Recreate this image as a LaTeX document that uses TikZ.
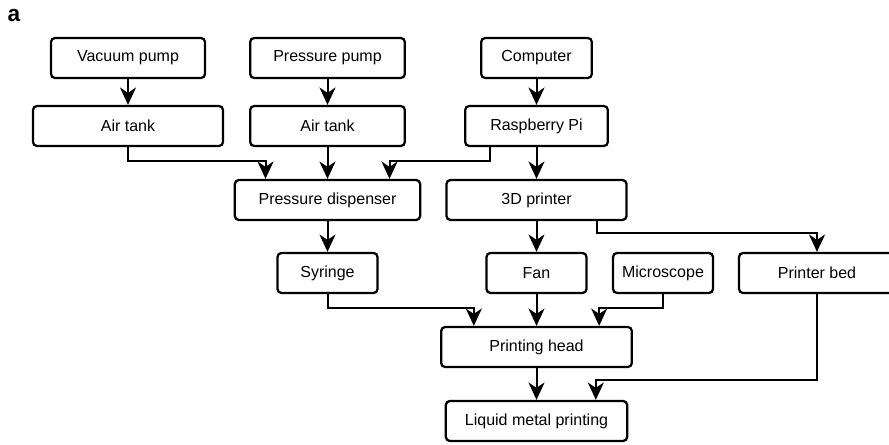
\documentclass[tikz,border=0pt]{standalone}
\usepackage{fontspec}
\setmainfont{Liberation Sans}
\usetikzlibrary{arrows.meta}
\begin{document}
\begin{tikzpicture}[x=0.75pt, y=-0.75pt,
    every node/.style={draw, rectangle, rounded corners=3pt, line width=1.7pt, minimum height=30pt, font=\fontsize{12}{14}\selectfont, inner sep=2pt},
    link/.style={line width=1.5pt, -{Stealth[length=13pt, width=12pt, inset=4pt]}}]
        \useasboundingbox (0,0) rectangle (889,445);
        \coordinate (c1) at (128,58);
        \coordinate (c2) at (327.5,58);
        \coordinate (c3) at (536.5,58);
        \coordinate (c4) at (128,126);
        \coordinate (c5) at (327.5,126);
        \coordinate (c6) at (536.5,126);
        \coordinate (c7) at (327.5,200);
        \coordinate (c8) at (536.5,200);
        \coordinate (c9) at (327.5,273);
        \coordinate (c10) at (536.5,273);
        \coordinate (c11) at (663,273);
        \coordinate (c12) at (817,273);
        \coordinate (c13) at (536.5,347);
        \coordinate (c14) at (536.5,421);
        \node[draw=none, font=\fontsize{17}{20}\selectfont\bfseries, inner sep=0pt, minimum height=0pt] (lbl) at (14,16) {a};
        \node[minimum width=115.5pt] (vac) at (c1) {Vacuum pump};
        \node[minimum width=116pt] (pump) at (c2) {Pressure pump};
        \node[minimum width=83pt] (pc) at (c3) {Computer};
        \node[minimum width=142.5pt] (tank1) at (c4) {Air tank};
        \node[minimum width=116pt] (tank2) at (c5) {Air tank};
        \node[minimum width=107pt] (rpi) at (c6) {Raspberry Pi};
        \node[minimum width=139pt] (disp) at (c7) {Pressure dispenser};
        \node[minimum width=135pt] (prn) at (c8) {3D printer};
        \node[minimum width=75pt] (syr) at (c9) {Syringe};
        \node[minimum width=75pt] (fan) at (c10) {Fan};
        \node[minimum width=75pt] (mic) at (c11) {Microscope};
        \node[minimum width=117pt] (bed) at (c12) {Printer bed};
        \node[minimum width=143pt] (head) at (c13) {Printing head};
        \node[minimum width=136pt] (lmp) at (c14) {Liquid metal printing};
        % straight links
        \draw[link] (vac) -- (tank1);
        \draw[link] (pump) -- (tank2);
        \draw[link] (pc) -- (rpi);
        \draw[link] (tank2) -- (disp);
        \draw[link] (rpi) -- (prn);
        \draw[link] (disp) -- (syr);
        \draw[link] (prn) -- (fan);
        \draw[link] (fan) -- (head);
        \draw[link] (head) -- (lmp);
        % elbow links
        \draw[link] (tank1.south) -- ++(0,14) -| ([xshift=-46.5pt]disp.north);
        \draw[link] ([xshift=-35pt]rpi.south) -- ++(0,14) -| ([xshift=46.5pt]disp.north);
        \draw[link] ([xshift=45pt]prn.south) -- ++(0,12) -| (bed);
        \draw[link] (syr.south) -- ++(0,14) -| ([xshift=-47pt]head.north);
        \draw[link] (mic.south) -- ++(0,14) -| ([xshift=47pt]head.north);
        \draw[link] (bed.south) |- ([xshift=44.5pt, yshift=15pt]lmp.north) -- ([xshift=44.5pt]lmp.north);
    \end{tikzpicture}
\end{document}
